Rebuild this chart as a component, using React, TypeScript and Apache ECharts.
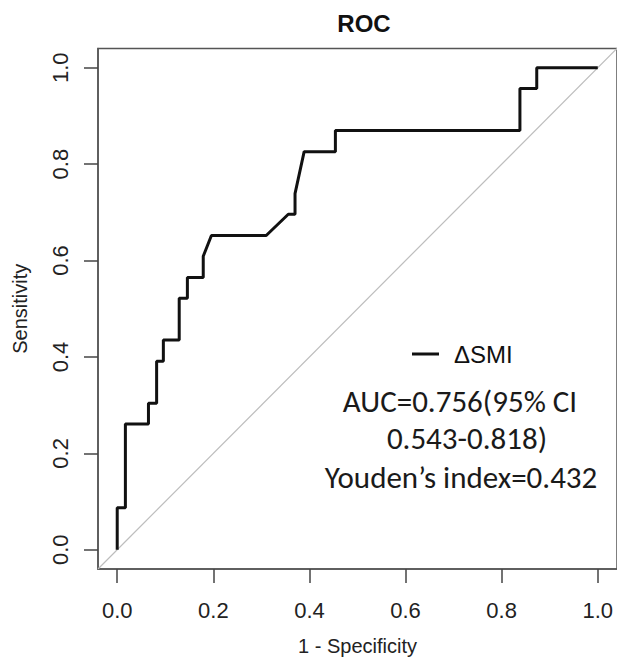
import React, { useEffect, useRef } from "react";
import * as echarts from "echarts";

// ROC curve corner points (1 - specificity, sensitivity)
const fpr = [0, 0, 0.017, 0.017, 0.065, 0.065, 0.082, 0.082, 0.096, 0.096, 0.129, 0.129, 0.146, 0.146, 0.179, 0.179, 0.196, 0.31, 0.356, 0.37, 0.37, 0.389, 0.454, 0.454, 0.838, 0.838, 0.873, 0.873, 1.0];
const tpr = [0, 0.087, 0.087, 0.261, 0.261, 0.304, 0.304, 0.391, 0.391, 0.435, 0.435, 0.522, 0.522, 0.565, 0.565, 0.609, 0.652, 0.652, 0.696, 0.696, 0.739, 0.826, 0.826, 0.87, 0.87, 0.957, 0.957, 1.0, 1.0];
const refX = [-0.04, 1.04];
const refY = [-0.04, 1.04];
const xTicks = [0, 0.2, 0.4, 0.6, 0.8, 1.0];
const yTicks = [0, 0.2, 0.4, 0.6, 0.8, 1.0];
const seriesName = "ΔSMI";
const annotationLines = ["AUC=0.756(95% CI", "0.543-0.818)", "Youden\u2019s index=0.432"];

const AX_FONT = "'Liberation Sans', Arial, sans-serif";
const NOTE_FONT = "Carlito, Lato, sans-serif";

export default function App() {
  const ref = useRef<HTMLDivElement>(null);
  useEffect(() => {
    if (!ref.current) return;
    const chart = echarts.init(ref.current, null, { renderer: "svg" });
    const curve = fpr.map((x, i) => [x, tpr[i]]);
    const diag = refX.map((x, i) => [x, refY[i]]);
    const noteX = [460, 467, 461];
    const noteY = [401, 438, 477];
    const axisStroke = { color: "#555", width: 1.5 };
    chart.setOption({
      animation: false,
      backgroundColor: "#ffffff",
      title: {
        text: "ROC",
        left: 359,
        top: 6,
        textAlign: "center",
        textStyle: { fontFamily: AX_FONT, fontSize: 24, fontWeight: "bold", color: "#111" },
      },
      legend: {
        left: 407,
        top: 337,
        icon: "rect",
        itemWidth: 27,
        itemHeight: 3,
        itemGap: 10,
        data: [seriesName],
        textStyle: { fontFamily: AX_FONT, fontSize: 24, color: "#111", padding: [0, 0, 0, 10] },
      },
      grid: {
        left: 98,
        top: 48.5,
        width: 522,
        height: 522,
        show: true,
        borderColor: "#555",
        borderWidth: 1.5,
        backgroundColor: "transparent",
      },
      xAxis: {
        type: "value",
        position: "bottom",
        min: -0.04,
        max: 1.04,
        name: "1 - Specificity",
        nameLocation: "middle",
        nameGap: 67,
        nameTextStyle: { fontFamily: AX_FONT, fontSize: 20, color: "#222" },
        axisLine: { show: true, onZero: false, lineStyle: axisStroke },
        splitLine: { show: false },
        axisTick: { show: true, inside: false, length: 14, customValues: xTicks, lineStyle: { color: "#444", width: 1.5 } },
        axisLabel: {
          customValues: xTicks,
          formatter: (v: number) => v.toFixed(1),
          fontFamily: AX_FONT,
          fontSize: 22,
          color: "#222",
          margin: 30,
        },
      },
      yAxis: {
        type: "value",
        position: "left",
        min: -0.04,
        max: 1.04,
        name: "Sensitivity",
        nameLocation: "middle",
        nameGap: 68,
        nameTextStyle: { fontFamily: AX_FONT, fontSize: 20, color: "#222" },
        axisLine: { show: true, onZero: false, lineStyle: axisStroke },
        splitLine: { show: false },
        axisTick: { show: true, inside: false, length: 14, customValues: yTicks, lineStyle: { color: "#444", width: 1.5 } },
        axisLabel: {
          customValues: yTicks,
          formatter: (v: number) => v.toFixed(1),
          rotate: 90,
          fontFamily: AX_FONT,
          fontSize: 22,
          color: "#222",
          margin: 27,
        },
      },
      series: [
        {
          type: "line",
          name: "reference",
          data: diag,
          showSymbol: false,
          symbol: "none",
          lineStyle: { color: "#bdbdbd", width: 1.2 },
          silent: true,
          z: 1,
        },
        {
          type: "line",
          name: seriesName,
          data: curve,
          showSymbol: false,
          symbol: "none",
          color: "#111",
          lineStyle: { color: "#111", width: 3 },
          z: 3,
        },
      ],
      graphic: annotationLines.map((t, i) => ({
        type: "text",
        x: noteX[i],
        y: noteY[i],
        style: {
          text: t,
          fontFamily: NOTE_FONT,
          fontSize: 31,
          fill: "#1a1a1a",
          align: "center",
          verticalAlign: "middle",
        },
      })),
    });
    return () => chart.dispose();
  }, []);
  return (
    <div
      ref={ref}
      style={{ position: "absolute", left: 0, top: 0, width: 617, height: 661, background: "#fff" }}
    />
  );
}
